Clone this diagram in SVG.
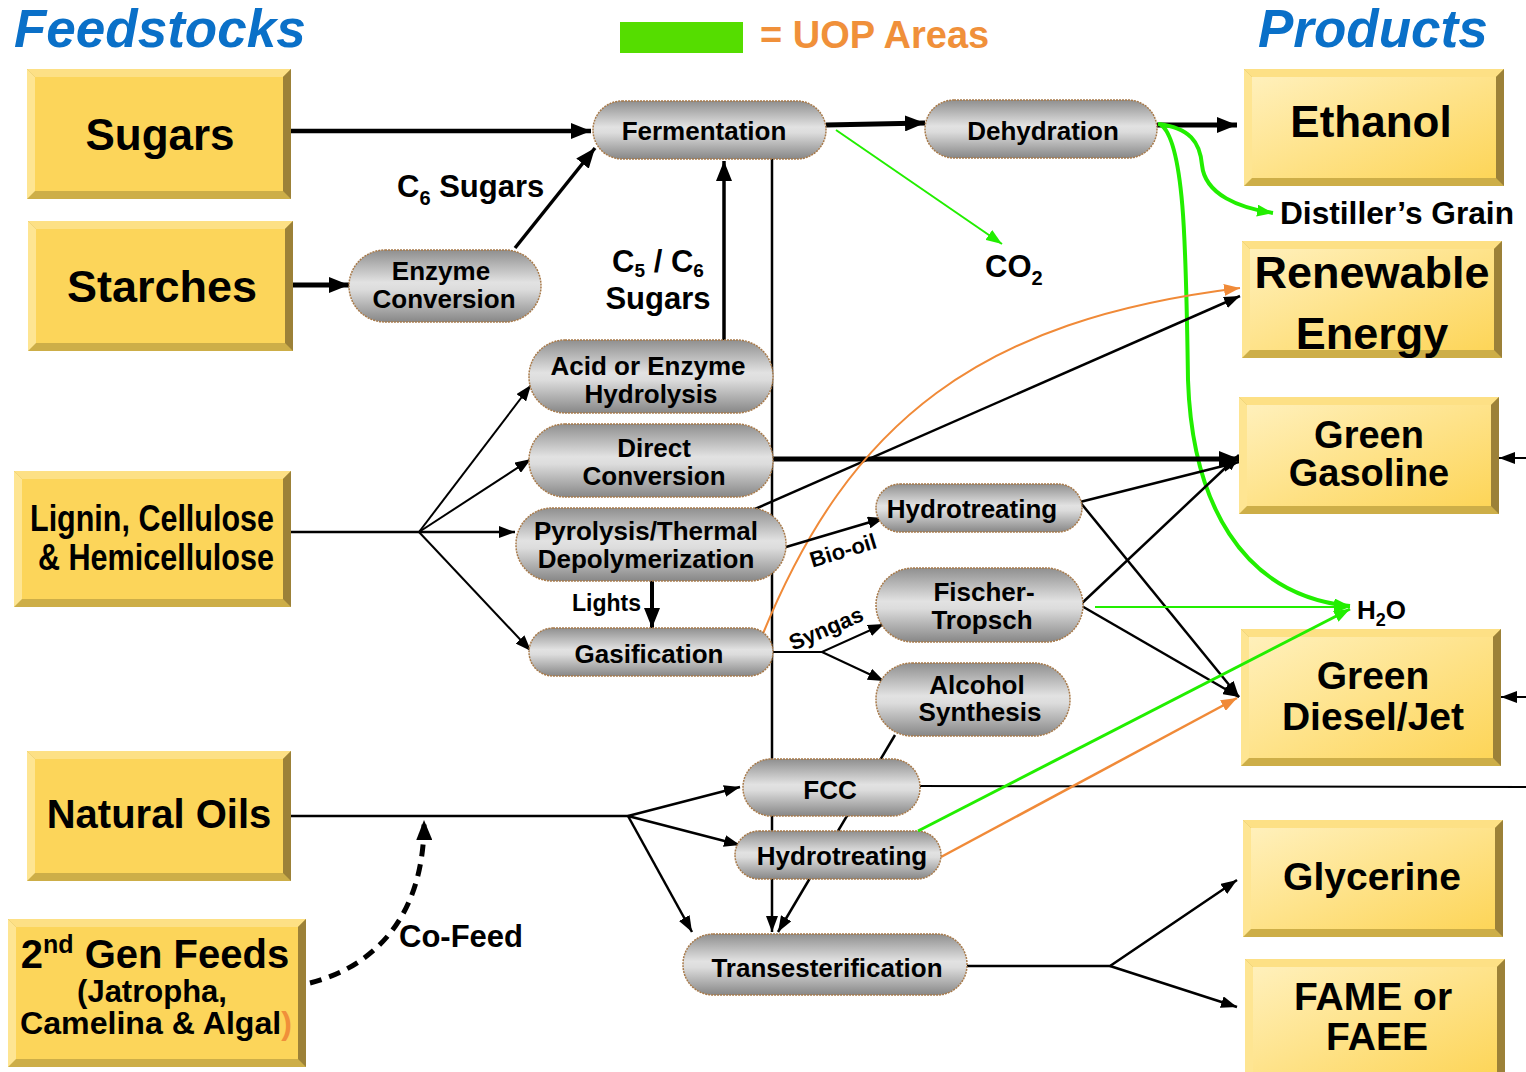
<svg xmlns="http://www.w3.org/2000/svg" width="1526" height="1072" viewBox="0 0 1526 1072">
<defs>
<linearGradient id="pg" x1="0" y1="0" x2="0" y2="1">
<stop offset="0" stop-color="#8f8f8f"/>
<stop offset="0.45" stop-color="#e2e2e2"/>
<stop offset="0.55" stop-color="#dcdcdc"/>
<stop offset="1" stop-color="#878787"/>
</linearGradient>
<linearGradient id="prg" x1="0" y1="0" x2="1" y2="1">
<stop offset="0" stop-color="#fff0bb"/>
<stop offset="1" stop-color="#fdd558"/>
</linearGradient>
<marker id="a" viewBox="0 0 16 12" markerWidth="16" markerHeight="12" refX="16" refY="6" orient="auto" markerUnits="userSpaceOnUse"><path d="M0,0 L16,6 L0,12 z" fill="#000"/></marker>
<marker id="aT" viewBox="0 0 20 16" markerWidth="20" markerHeight="16" refX="20" refY="8" orient="auto" markerUnits="userSpaceOnUse"><path d="M0,0 L20,8 L0,16 z" fill="#000"/></marker>
<marker id="ag" viewBox="0 0 16 12" markerWidth="16" markerHeight="12" refX="16" refY="6" orient="auto" markerUnits="userSpaceOnUse"><path d="M0,0 L16,6 L0,12 z" fill="#22ee00"/></marker>
<marker id="ao" viewBox="0 0 16 12" markerWidth="16" markerHeight="12" refX="16" refY="6" orient="auto" markerUnits="userSpaceOnUse"><path d="M0,0 L16,6 L0,12 z" fill="#f08a38"/></marker>
</defs>
<style>
text{font-family:"Liberation Sans",Arial,sans-serif;font-weight:bold;fill:#000}
.pill{fill:url(#pg);stroke:#a87a4a;stroke-width:1.5;stroke-dasharray:2 1}
.pt{font-size:26px;text-anchor:middle}
.bt{fill:#9c8138}.bb{fill:#cdae48}.bl{fill:#fee592}.btop{fill:#fde085}
.fin{fill:#fcd55a}.pin{fill:url(#prg)}
.box{font-size:44px;text-anchor:middle}
.c{fill:none;stroke:#000}
.g{fill:none;stroke:#22ee00}
.o{fill:none;stroke:#f08a38}
.lbl{font-size:31px}
</style>

<!-- headers -->
<g id="header">
<text x="14" y="47" style="font-size:53px;font-style:italic;fill:#0a70c8">Feedstocks</text>
<text x="1258" y="47" style="font-size:53px;font-style:italic;fill:#0a70c8">Products</text>
<rect x="620" y="22" width="123" height="31" fill="#55dd00"/>
<text x="760" y="48" style="font-size:38px;fill:#f0903a">= UOP Areas</text>
</g>

<!-- connectors -->
<g id="connectors">
<path class="c" d="M291,131 L591,131" stroke-width="4.5" marker-end="url(#aT)"/>
<path class="c" d="M293,285 L349,285" stroke-width="5" marker-end="url(#aT)"/>
<path class="c" d="M515,248 L595,148" stroke-width="3.5" marker-end="url(#aT)"/>
<path class="c" d="M826,125 L925,123" stroke-width="5" marker-end="url(#aT)"/>
<polygon points="806,122 820,113 818,131" fill="#000"/>
<path class="c" d="M724,340 L724,161" stroke-width="3.5" marker-end="url(#aT)"/>
<path class="c" d="M772,159 L772,932" stroke-width="2.5" marker-end="url(#a)"/>
<path class="c" d="M1157,125 L1237,125" stroke-width="5" marker-end="url(#aT)"/>
<path class="g" d="M1158,124 C1190,128 1200,142 1202,165 C1205,195 1240,208 1273,213" stroke-width="4" marker-end="url(#ag)"/>
<path class="g" d="M1160,124 C1185,140 1186,250 1188,380 C1192,500 1240,595 1350,606" stroke-width="4" marker-end="url(#ag)"/>
<path class="g" d="M836,130 L1002,244" stroke-width="2" marker-end="url(#ag)"/>
<path class="c" d="M291,532 L419,532" stroke-width="2.5"/>
<path class="c" d="M419,532 L531,385" stroke-width="2" marker-end="url(#a)"/>
<path class="c" d="M419,532 L531,459" stroke-width="2" marker-end="url(#a)"/>
<path class="c" d="M419,532 L515,532" stroke-width="2.5" marker-end="url(#a)"/>
<path class="c" d="M419,532 L531,651" stroke-width="2" marker-end="url(#a)"/>
<path class="c" d="M773,459 L1239,459" stroke-width="5" marker-end="url(#aT)"/>
<path class="c" d="M755,509 L1240,296" stroke-width="2.5" marker-end="url(#a)"/>
<path class="o" d="M762,636 C850,420 980,320 1240,288" stroke-width="2" marker-end="url(#ao)"/>
<path class="c" d="M786,547 L884,518" stroke-width="2.5" marker-end="url(#a)"/>
<path class="c" d="M652,581 L652,628" stroke-width="4" marker-end="url(#aT)"/>
<path class="c" d="M773,652 L822,652 L884,624" stroke-width="2" marker-end="url(#a)"/>
<path class="c" d="M822,652 L884,681" stroke-width="2" marker-end="url(#a)"/>
<path class="c" d="M1080,502 L1239,462" stroke-width="2.5" marker-end="url(#a)"/>
<path class="c" d="M1080,502 L1239,697" stroke-width="2.5" marker-end="url(#a)"/>
<path class="c" d="M1080,605 L1239,455" stroke-width="2.5" marker-end="url(#a)"/>
<path class="c" d="M1080,605 L1239,697" stroke-width="2.5" marker-end="url(#a)"/>
<path class="g" d="M1095,607 L1350,607" stroke-width="2" marker-end="url(#ag)"/>
<path class="c" d="M291,816 L628,816" stroke-width="2.5"/>
<path class="c" d="M628,816 L740,787" stroke-width="2.5" marker-end="url(#a)"/>
<path class="c" d="M628,816 L740,845" stroke-width="2.5" marker-end="url(#a)"/>
<path class="c" d="M628,816 L692,932" stroke-width="2.5" marker-end="url(#a)"/>
<path class="c" d="M895,735 L778,932" stroke-width="2.5" marker-end="url(#a)"/>
<path class="c" d="M920,786 L1526,787" stroke-width="2"/>
<path class="c" d="M1526,458 L1499,458" stroke-width="2" marker-end="url(#a)"/>
<path class="c" d="M1526,697 L1501,697" stroke-width="2" marker-end="url(#a)"/>
<path class="o" d="M941,857 L1237,698" stroke-width="2.5" marker-end="url(#ao)"/>
<path class="c" d="M967,966 L1110,966 L1237,880" stroke-width="2.5" marker-end="url(#a)"/>
<path class="c" d="M1110,966 L1237,1007" stroke-width="2.5" marker-end="url(#a)"/>
<path class="c" d="M310,983 C380,965 425,910 424,820" stroke-width="5" stroke-dasharray="12 8" marker-end="url(#aT)"/>
</g>

<!-- labels -->
<g id="labels">
<text x="397" y="197" class="lbl">C<tspan font-size="20" dy="8">6</tspan><tspan dy="-8"> Sugars</tspan></text>
<text x="658" y="272" class="lbl" text-anchor="middle">C<tspan font-size="19" dy="5">5</tspan><tspan dy="-5"> / C</tspan><tspan font-size="19" dy="5">6</tspan></text>
<text x="658" y="309" class="lbl" text-anchor="middle">Sugars</text>
<text x="985" y="277" class="lbl">CO<tspan font-size="20" dy="8">2</tspan></text>
<text x="1280" y="224" style="font-size:31px" textLength="234" lengthAdjust="spacingAndGlyphs">Distiller’s Grain</text>
<text x="1357" y="619" style="font-size:26px">H<tspan font-size="18" dy="7">2</tspan><tspan dy="-7">O</tspan></text>
<text x="572" y="611" style="font-size:23px">Lights</text>
<text x="843" y="558" style="font-size:22px" text-anchor="middle" transform="rotate(-17 843 550)">Bio-oil</text>
<text x="826" y="636" style="font-size:22px" text-anchor="middle" transform="rotate(-23 826 628)">Syngas</text>
<text x="399" y="947" style="font-size:31px">Co-Feed</text>
</g>

<!-- feedstock boxes -->
<g id="sugars">
<rect x="27" y="69" width="264" height="130" class="bb"/>
<polygon points="27,69 291,69 283,77 35,77" class="btop"/>
<polygon points="27,69 35,77 35,191 27,199" class="bl"/>
<polygon points="291,69 291,199 283,191 283,77" class="bt"/>
<rect x="35" y="77" width="248" height="114" class="fin"/>
<text x="160" y="150" class="box">Sugars</text>
</g>
<g id="starches">
<rect x="28" y="221" width="265" height="130" class="bb"/>
<polygon points="28,221 293,221 285,229 36,229" class="btop"/>
<polygon points="28,221 36,229 36,343 28,351" class="bl"/>
<polygon points="293,221 293,351 285,343 285,229" class="bt"/>
<rect x="36" y="229" width="249" height="114" class="fin"/>
<text x="162" y="302" class="box" style="font-size:45px">Starches</text>
</g>
<g id="lignin">
<rect x="14" y="471" width="277" height="136" class="bb"/>
<polygon points="14,471 291,471 283,479 22,479" class="btop"/>
<polygon points="14,471 22,479 22,599 14,607" class="bl"/>
<polygon points="291,471 291,607 283,599 283,479" class="bt"/>
<rect x="22" y="479" width="261" height="120" class="fin"/>
<text x="30" y="531" style="font-size:36px" textLength="244" lengthAdjust="spacingAndGlyphs">Lignin, Cellulose</text>
<text x="38" y="570" style="font-size:36px" textLength="236" lengthAdjust="spacingAndGlyphs">&amp; Hemicellulose</text>
</g>
<g id="natural-oils">
<rect x="27" y="751" width="264" height="130" class="bb"/>
<polygon points="27,751 291,751 283,759 35,759" class="btop"/>
<polygon points="27,751 35,759 35,873 27,881" class="bl"/>
<polygon points="291,751 291,881 283,873 283,759" class="bt"/>
<rect x="35" y="759" width="248" height="114" class="fin"/>
<text x="159" y="828" style="font-size:40px" text-anchor="middle">Natural Oils</text>
</g>
<g id="second-gen">
<rect x="8" y="919" width="298" height="148" class="bb"/>
<polygon points="8,919 306,919 298,927 16,927" class="btop"/>
<polygon points="8,919 16,927 16,1059 8,1067" class="bl"/>
<polygon points="306,919 306,1067 298,1059 298,927" class="bt"/>
<rect x="16" y="927" width="282" height="132" class="fin"/>
<text x="155" y="968" style="font-size:40px" text-anchor="middle">2<tspan font-size="25" dy="-15">nd</tspan><tspan dy="15"> Gen Feeds</tspan></text>
<text x="152" y="1002" style="font-size:31px" text-anchor="middle">(Jatropha,</text>
<text x="156" y="1034" style="font-size:31px" text-anchor="middle" textLength="272" lengthAdjust="spacingAndGlyphs">Camelina &amp; Algal<tspan fill="#f0903a">)</tspan></text>
</g>

<!-- product boxes -->
<g id="ethanol">
<rect x="1244" y="69" width="260" height="117" class="bb"/>
<polygon points="1244,69 1504,69 1496,77 1252,77" class="btop"/>
<polygon points="1244,69 1252,77 1252,178 1244,186" class="bl"/>
<polygon points="1504,69 1504,186 1496,178 1496,77" class="bt"/>
<rect x="1252" y="77" width="244" height="101" class="pin"/>
<text x="1371" y="137" class="box">Ethanol</text>
</g>
<g id="renewable-energy">
<rect x="1242" y="241" width="260" height="117" class="bb"/>
<polygon points="1242,241 1502,241 1494,249 1250,249" class="btop"/>
<polygon points="1242,241 1250,249 1250,350 1242,358" class="bl"/>
<polygon points="1502,241 1502,358 1494,350 1494,249" class="bt"/>
<rect x="1250" y="249" width="244" height="101" class="pin"/>
<text x="1372" y="288" style="font-size:45px" text-anchor="middle">Renewable</text>
<text x="1372" y="349" style="font-size:45px" text-anchor="middle">Energy</text>
</g>
<g id="green-gasoline">
<rect x="1239" y="397" width="260" height="117" class="bb"/>
<polygon points="1239,397 1499,397 1491,405 1247,405" class="btop"/>
<polygon points="1239,397 1247,405 1247,506 1239,514" class="bl"/>
<polygon points="1499,397 1499,514 1491,506 1491,405" class="bt"/>
<rect x="1247" y="405" width="244" height="101" class="pin"/>
<text x="1369" y="448" style="font-size:38px" text-anchor="middle">Green</text>
<text x="1369" y="486" style="font-size:38px" text-anchor="middle">Gasoline</text>
</g>
<g id="green-diesel">
<rect x="1241" y="629" width="260" height="137" class="bb"/>
<polygon points="1241,629 1501,629 1493,637 1249,637" class="btop"/>
<polygon points="1241,629 1249,637 1249,758 1241,766" class="bl"/>
<polygon points="1501,629 1501,766 1493,758 1493,637" class="bt"/>
<rect x="1249" y="637" width="244" height="121" class="pin"/>
<text x="1373" y="689" style="font-size:39px" text-anchor="middle">Green</text>
<text x="1373" y="730" style="font-size:39px" text-anchor="middle">Diesel/Jet</text>
</g>
<g id="glycerine">
<rect x="1243" y="820" width="260" height="117" class="bb"/>
<polygon points="1243,820 1503,820 1495,828 1251,828" class="btop"/>
<polygon points="1243,820 1251,828 1251,929 1243,937" class="bl"/>
<polygon points="1503,820 1503,937 1495,929 1495,828" class="bt"/>
<rect x="1251" y="828" width="244" height="101" class="pin"/>
<text x="1372" y="890" style="font-size:39px" text-anchor="middle">Glycerine</text>
</g>
<g id="fame">
<rect x="1245" y="959" width="260" height="125" class="bb"/>
<polygon points="1245,959 1505,959 1497,967 1253,967" class="btop"/>
<polygon points="1245,959 1253,967 1253,1076 1245,1084" class="bl"/>
<polygon points="1505,959 1505,1084 1497,1076 1497,967" class="bt"/>
<rect x="1253" y="967" width="244" height="109" class="pin"/>
<text x="1373" y="1010" style="font-size:39px" text-anchor="middle">FAME or</text>
<text x="1377" y="1050" style="font-size:39px" text-anchor="middle">FAEE</text>
</g>

<!-- process pills -->
<g id="fermentation"><rect x="593" y="101" width="233" height="58" rx="29" class="pill"/><text x="704" y="140" class="pt">Fermentation</text></g>
<g id="dehydration"><rect x="925" y="100" width="232" height="58" rx="29" class="pill"/><text x="1043" y="140" class="pt">Dehydration</text></g>
<g id="enzyme-conversion"><rect x="349" y="250" width="192" height="72" rx="36" class="pill"/><text x="441" y="280" class="pt">Enzyme</text><text x="444" y="308" class="pt">Conversion</text></g>
<g id="acid-hydrolysis"><rect x="529" y="340" width="244" height="73" rx="36" class="pill"/><text x="648" y="375" class="pt">Acid or Enzyme</text><text x="651" y="403" class="pt">Hydrolysis</text></g>
<g id="direct-conversion"><rect x="529" y="424" width="244" height="73" rx="36" class="pill"/><text x="654" y="457" class="pt">Direct</text><text x="654" y="485" class="pt">Conversion</text></g>
<g id="pyrolysis"><rect x="516" y="508" width="270" height="73" rx="36" class="pill"/><text x="646" y="540" class="pt">Pyrolysis/Thermal</text><text x="646" y="568" class="pt">Depolymerization</text></g>
<g id="gasification"><rect x="529" y="628" width="244" height="48" rx="24" class="pill"/><text x="649" y="663" class="pt">Gasification</text></g>
<g id="hydrotreating-1"><rect x="876" y="484" width="206" height="48" rx="24" class="pill"/><text x="972" y="518" class="pt">Hydrotreating</text></g>
<g id="fischer-tropsch"><rect x="876" y="568" width="207" height="74" rx="37" class="pill"/><text x="984" y="601" class="pt">Fischer-</text><text x="982" y="629" class="pt">Tropsch</text></g>
<g id="alcohol-synthesis"><rect x="876" y="663" width="194" height="73" rx="36" class="pill"/><text x="977" y="694" class="pt">Alcohol</text><text x="980" y="721" class="pt">Synthesis</text></g>
<g id="fcc"><rect x="743" y="759" width="177" height="57" rx="28" class="pill"/><text x="830" y="799" class="pt">FCC</text></g>
<g id="hydrotreating-2"><rect x="735" y="831" width="206" height="48" rx="24" class="pill"/><text x="842" y="865" class="pt">Hydrotreating</text></g>
<g id="transesterification"><rect x="683" y="934" width="284" height="61" rx="30" class="pill"/><text x="827" y="977" class="pt">Transesterification</text></g>

<!-- connector drawn over the diesel box, as in the reference -->
<g id="connectors-top">
<path class="g" d="M918,831 L1350,609" stroke-width="3" marker-end="url(#ag)"/>
</g>
</svg>
